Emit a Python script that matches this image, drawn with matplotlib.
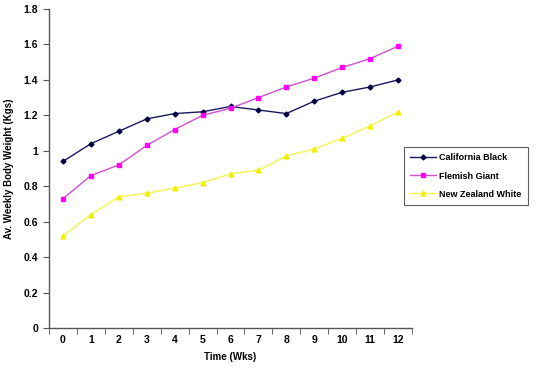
import numpy as np
import matplotlib.pyplot as plt

weeks = list(range(13))
california_black = [0.94, 1.04, 1.11, 1.18, 1.21, 1.22, 1.25, 1.23, 1.21, 1.28, 1.33, 1.36, 1.40]
flemish_giant = [0.73, 0.86, 0.92, 1.03, 1.12, 1.20, 1.24, 1.30, 1.36, 1.41, 1.47, 1.52, 1.59]
nz_white = [0.52, 0.64, 0.74, 0.76, 0.79, 0.82, 0.87, 0.89, 0.97, 1.01, 1.07, 1.14, 1.22]
y_ticks = [0, 0.2, 0.4, 0.6, 0.8, 1, 1.2, 1.4, 1.6, 1.8]

plt.rcParams['font.family'] = ['Liberation Sans', 'DejaVu Sans']

fig = plt.figure(figsize=(5.36, 3.71), dpi=100)
ax = fig.add_axes([49/536, 1 - 328/371, (412 - 49)/536, (328 - 9)/371])

ax.plot(weeks, california_black, color='#1a1a5e', lw=1.0, marker='D', ms=2.5,
        mfc='#000040', mec='#000040', label='California Black')
ax.plot(weeks, flemish_giant, color='#d050d0', lw=1.0, marker='s', ms=3.5,
        mfc='#ff00ff', mec='#ff00ff', label='Flemish Giant')
ax.plot(weeks, nz_white, color='#f4f450', lw=1.0, marker='^', ms=3.5,
        mfc='#f0f000', mec='#f0f000', label='New Zealand White')

ax.set_xlim(-0.5, 12.5)
ax.set_ylim(0, 1.8)
ax.set_yticks(y_ticks)
ax.set_yticklabels([f'{v:g}' for v in y_ticks])
ax.set_xticks(weeks)
ax.set_xticks(np.arange(-0.5, 13, 1), minor=True)
ax.tick_params(axis='x', which='major', length=0, pad=5)
ax.tick_params(axis='x', which='minor', length=4, direction='out', color='#555555')
ax.tick_params(axis='y', length=4, direction='out', color='#555555', pad=4)
for lab in ax.get_xticklabels() + ax.get_yticklabels():
    lab.set_fontsize(7.5)
    lab.set_fontweight('bold')

for s in ['top', 'right']:
    ax.spines[s].set_visible(False)
for s in ['left', 'bottom']:
    ax.spines[s].set_color('#555555')
    ax.spines[s].set_linewidth(1.0)

ax.set_xlabel('Time (Wks)', fontsize=7, fontweight='bold')
ax.xaxis.set_label_coords(0.5, -(352 - 328) / 319, transform=ax.transAxes)
ax.set_ylabel('Av. Weekly Body Weight (Kgs)', fontsize=7, fontweight='bold')
ax.yaxis.set_label_coords(-(49 - 14) / 363, 0.5, transform=ax.transAxes)

leg = ax.legend(loc='center left', bbox_to_anchor=(404/536, 1 - 176/371),
                bbox_transform=fig.transFigure, prop={'weight': 'bold', 'size': 6.5},
                frameon=True, fancybox=False, edgecolor='#333333', handlelength=2.8,
                handletextpad=0.4, borderpad=0.7, borderaxespad=0, labelspacing=1.0)
leg.get_frame().set_linewidth(0.8)

fig.savefig('out.png', dpi=100)
